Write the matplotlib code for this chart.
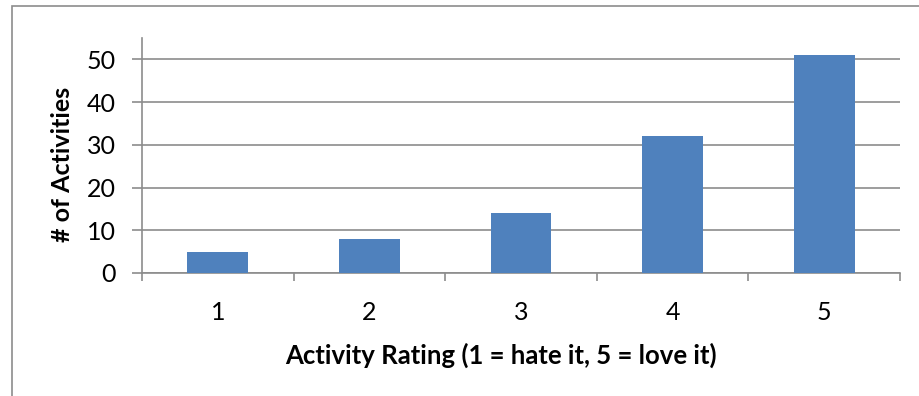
import numpy as np
import matplotlib.pyplot as plt
from matplotlib.patches import Rectangle

ratings = ["1", "2", "3", "4", "5"]
counts = [5, 8, 14, 32, 51]
yticks = [0, 10, 20, 30, 40, 50]

barColor = "#4F81BD"
gridColor = "#8C8C8C"

plt.rcParams['font.family'] = ['Lato', 'DejaVu Sans']

fig = plt.figure(figsize=(9.2, 3.96), dpi=100)
W, H = 920.0, 396.0

# outer chart border (cut off at right and bottom like the source image)
fig.add_artist(Rectangle((12 / W, -0.1), 1.2, 1 - 6 / H + 0.1, transform=fig.transFigure,
                         fill=False, edgecolor="#8C8C8C", linewidth=1.2))

ax = fig.add_axes([142 / W, 1 - 273 / H, (900 - 142) / W, (273 - 38) / H])

x = np.arange(len(ratings))
ax.bar(x, counts, width=0.4, color=barColor, zorder=3)

ax.set_xlim(-0.5, len(ratings) - 0.5)
ax.set_ylim(0, 55)
ax.set_yticks(yticks)
ax.yaxis.grid(True, color=gridColor, linewidth=1.2, zorder=0)

# ticks at category boundaries, labels at centres
ax.set_xticks(np.arange(len(ratings) + 1) - 0.5)
ax.set_xticklabels([])
ax.set_xticks(x, minor=True)
ax.set_xticklabels(ratings, minor=True)
ax.tick_params(axis="x", which="major", length=6, width=1.2, color=gridColor)
ax.tick_params(axis="x", which="minor", length=0, pad=20, labelsize=18)
ax.tick_params(axis="y", length=7, width=1.2, color=gridColor, pad=12, labelsize=18)

for s in ["top", "right"]:
    ax.spines[s].set_visible(False)
for s in ["left", "bottom"]:
    ax.spines[s].set_color(gridColor)
    ax.spines[s].set_linewidth(1.2)

ax.set_xlabel("Activity Rating (1 = hate it, 5 = love it)", fontsize=18.5, fontweight="bold")
ax.xaxis.set_label_coords((501 - 142) / 758, -0.295)
ax.set_ylabel("# of Activities", fontsize=18, fontweight="bold")
ax.yaxis.set_label_coords(-0.09, 0.46)

fig.savefig("out.png", dpi=100)
